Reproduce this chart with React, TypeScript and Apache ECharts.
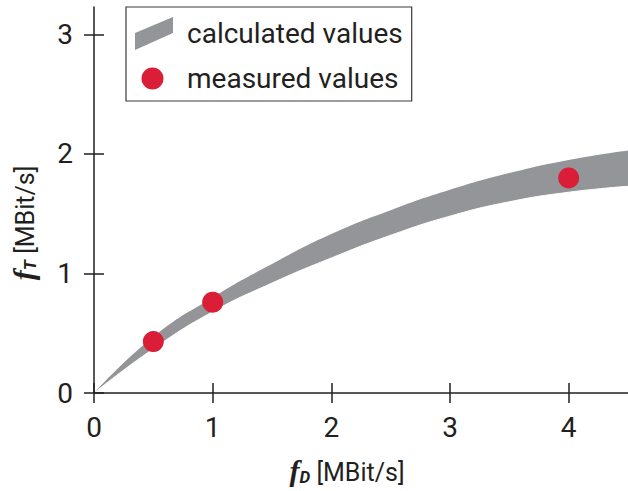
import React, { useEffect, useRef } from 'react';
import * as echarts from 'echarts';

// calculated band (upper / lower edge)
const bandX = [0, 0.5, 1, 1.5, 2, 2.5, 3, 3.5, 4, 4.5];
const bandUpper = [0, 0.47, 0.8, 1.08, 1.33, 1.53, 1.7, 1.84, 1.95, 2.03];
const bandLower = [0, 0.37, 0.68, 0.92, 1.13, 1.32, 1.48, 1.6, 1.68, 1.73];

// measured points
const measuredX = [0.5, 1, 4];
const measuredY = [0.43, 0.76, 1.8];

// ticks
const xTicks = [0, 1, 2, 3, 4];
const yTicks = [0, 1, 2, 3];

const seriesNames = ['calculated values', 'measured values'];

const GRAY = '#939598';
const RED = '#DA1E37';
const INK = '#231F20';
const FONT = 'Roboto';

export default function App() {
  const ref = useRef<HTMLDivElement>(null);
  useEffect(() => {
    if (!ref.current) return;
    const chart = echarts.init(ref.current, undefined, { renderer: 'svg' });

    const nameText = (sub: string) => `{f|f}{sub|${sub}}{u| [MBit/s]}`;

    const rich = {
      f: {
        fontFamily: 'Liberation Serif',
        fontStyle: 'italic',
        fontWeight: 'bold',
        fontSize: 30,
        color: INK,
        lineHeight: 30,
        verticalAlign: 'bottom',
      },
      sub: {
        fontFamily: FONT,
        fontStyle: 'italic',
        fontWeight: 'bold',
        fontSize: 17,
        color: INK,
        lineHeight: 22,
        verticalAlign: 'bottom',
      },
      u: {
        fontFamily: FONT,
        fontSize: 25,
        color: INK,
        lineHeight: 30,
        verticalAlign: 'bottom',
      },
    };

    const axisLineStyle = { color: INK, width: 1.5 };

    const option: any = {
      animation: false,
      textStyle: { fontFamily: FONT },
      grid: { left: 91, top: 7, width: 540, height: 386 },
      legend: {
        orient: 'vertical',
        left: 126,
        top: 7,
        z: 20,
        backgroundColor: '#ffffff',
        borderColor: '#3a3a3a',
        borderWidth: 1.2,
        borderRadius: 0,
        padding: [10, 9, 6, 9],
        itemGap: 12,
        itemWidth: 38,
        itemHeight: 33,
        textStyle: {
          fontFamily: FONT,
          fontSize: 28,
          color: INK,
          padding: [0, 0, 0, 9],
        },
        data: [
          {
            name: seriesNames[0],
            icon: 'path://M0,16L38,0L38,16L0,33Z',
            itemStyle: { color: GRAY, borderWidth: 0 },
          },
          {
            name: seriesNames[1],
            icon: 'path://M0,0M38,33M6.5,16.5A11,11,0,1,0,28.5,16.5A11,11,0,1,0,6.5,16.5Z',
            itemStyle: { color: RED, borderWidth: 0 },
          },
        ],
      },
      xAxis: [
        {
          type: 'value',
          position: 'bottom',
          min: 0,
          max: 4.5,
          z: 10,
          axisLine: { show: true, onZero: true, lineStyle: axisLineStyle },
          axisTick: { show: true, inside: false, length: 10, customValues: xTicks, lineStyle: axisLineStyle },
          axisLabel: { customValues: xTicks, fontSize: 28, color: INK, margin: 20, fontFamily: FONT },
          splitLine: { show: false },
          name: nameText('D'),
          nameLocation: 'middle',
          nameGap: 62,
          nameTextStyle: { rich, padding: [0, 28, 0, 0] },
        },
        {
          type: 'value',
          position: 'bottom',
          min: 0,
          max: 4.5,
          z: 10,
          axisLine: { show: false },
          axisTick: { show: true, inside: true, length: 10, customValues: xTicks, lineStyle: axisLineStyle },
          axisLabel: { show: false },
          splitLine: { show: false },
        },
      ],
      yAxis: [
        {
          type: 'value',
          position: 'left',
          min: 0,
          max: 3.23,
          z: 10,
          axisLine: { show: true, lineStyle: axisLineStyle },
          axisTick: { show: true, inside: false, length: 10, customValues: yTicks, lineStyle: axisLineStyle },
          axisLabel: { customValues: yTicks, fontSize: 28, color: INK, margin: 21, fontFamily: FONT },
          splitLine: { show: false },
          name: nameText('T'),
          nameLocation: 'middle',
          nameRotate: 90,
          nameGap: 56,
          nameTextStyle: { rich, padding: [0, 46, 0, 0] },
        },
        {
          type: 'value',
          position: 'left',
          min: 0,
          max: 3.23,
          z: 10,
          axisLine: { show: false },
          axisTick: { show: true, inside: true, length: 10, customValues: yTicks, lineStyle: axisLineStyle },
          axisLabel: { show: false },
          splitLine: { show: false },
        },
      ],
      series: [
        {
          name: seriesNames[0],
          type: 'line',
          xAxisIndex: 0,
          yAxisIndex: 0,
          smooth: 0.5,
          symbol: 'none',
          silent: true,
          itemStyle: { color: GRAY },
          lineStyle: { width: 0, opacity: 0, color: GRAY },
          areaStyle: { color: GRAY, opacity: 1, origin: 'start' },
          data: bandX.map((x, i) => [x, bandUpper[i]]),
          z: 2,
        },
        {
          name: 'band lower',
          type: 'line',
          xAxisIndex: 0,
          yAxisIndex: 0,
          smooth: 0.5,
          symbol: 'none',
          silent: true,
          itemStyle: { color: '#ffffff' },
          lineStyle: { width: 1, color: '#ffffff' },
          areaStyle: { color: '#ffffff', opacity: 1, origin: 'start' },
          data: bandX.map((x, i) => [x, bandLower[i]]),
          z: 3,
        },
        {
          name: seriesNames[1],
          type: 'scatter',
          xAxisIndex: 0,
          yAxisIndex: 0,
          symbol: 'circle',
          symbolSize: 21,
          itemStyle: { color: RED, opacity: 1 },
          data: measuredX.map((x, i) => [x, measuredY[i]]),
          z: 5,
        },
      ],
    };

    chart.setOption(option);
    return () => chart.dispose();
  }, []);

  return (
    <div
      ref={ref}
      style={{ position: 'fixed', left: 0, top: 0, width: 628, height: 491, background: '#ffffff' }}
    />
  );
}
